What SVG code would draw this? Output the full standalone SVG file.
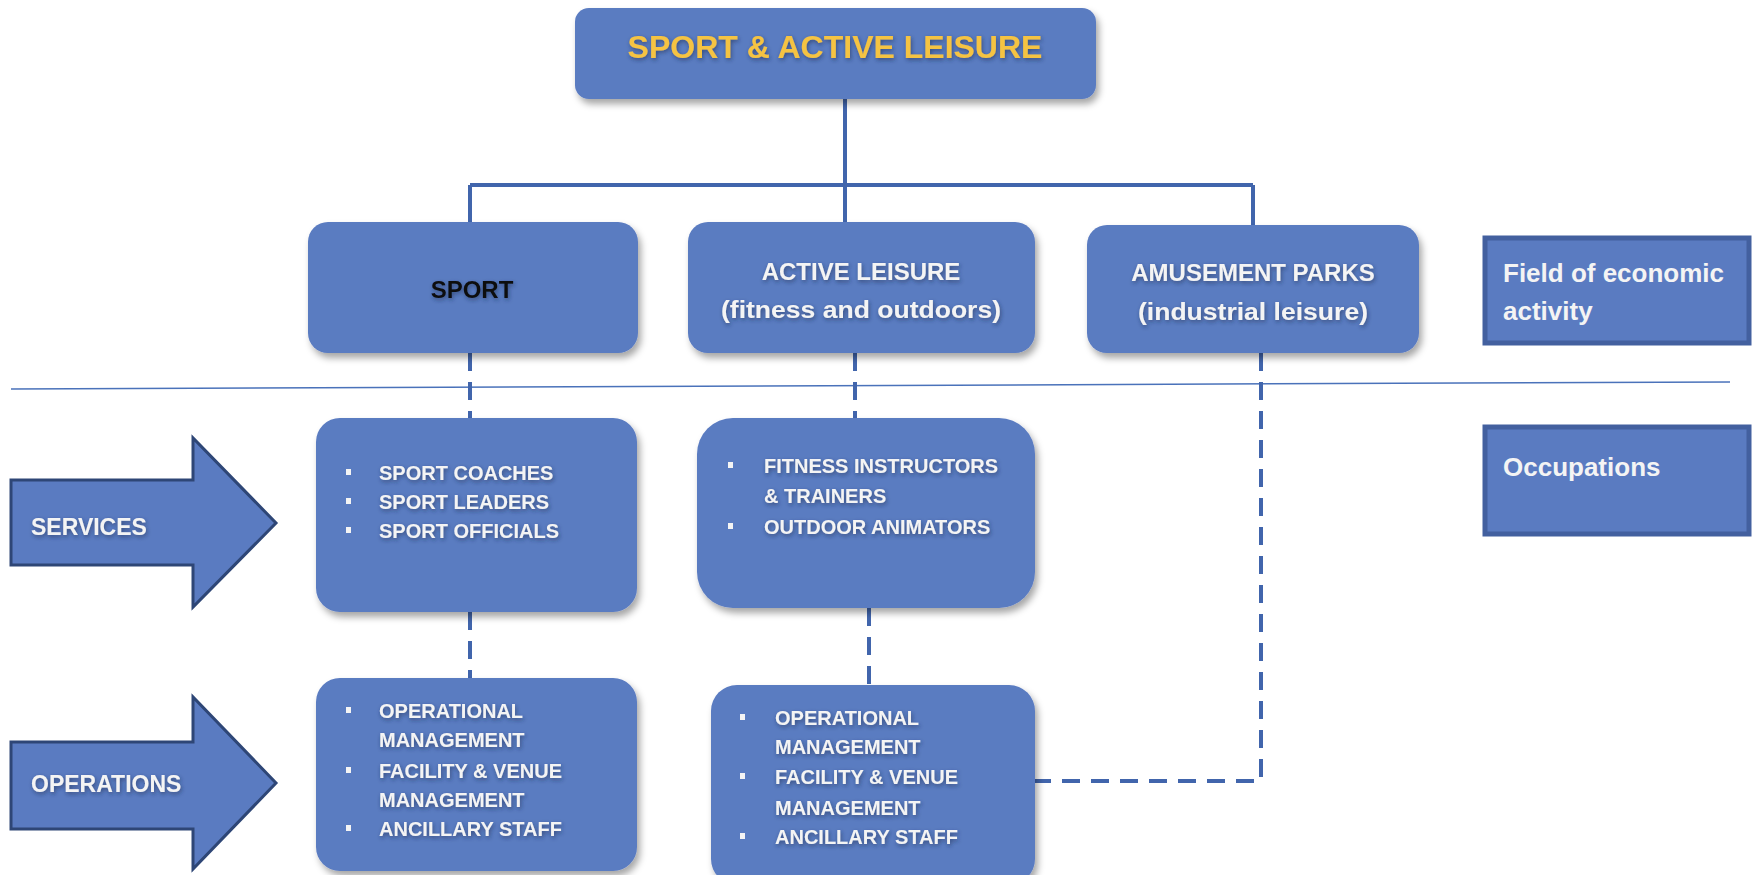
<svg xmlns="http://www.w3.org/2000/svg" width="1762" height="875" viewBox="0 0 1762 875">
  <defs>
    <filter id="sh" x="-10%" y="-10%" width="125%" height="130%">
      <feDropShadow dx="3" dy="5" stdDeviation="3.5" flood-color="#000" flood-opacity="0.35"/>
    </filter>
    <filter id="tsh" x="-5%" y="-20%" width="110%" height="150%">
      <feDropShadow dx="1" dy="2" stdDeviation="2" flood-color="#1a2a50" flood-opacity="0.6"/>
    </filter>
  </defs>
  <style>
    .box { fill: #5A7BC1; filter: url(#sh); }
    .sq { fill: #5A7BC1; stroke: #43609F; stroke-width: 5; }
    .arrow { fill: #5A7BC1; stroke: #2E4676; stroke-width: 3; stroke-linejoin: miter; }
    .solid { stroke: #4165AC; stroke-width: 4; fill: none; }
    .dash { stroke: #4165AC; stroke-width: 4; fill: none; stroke-dasharray: 18 11; }
    .thin { stroke: #4A72BA; stroke-width: 1.5; fill: none; }
    text { font-family: "Liberation Sans", Arial, sans-serif; font-weight: bold; }
    .t { fill: #F4F4F4; filter: url(#tsh); }
    .h { font-size: 24px; text-anchor: middle; }
    .b { font-size: 20px; }
    .l { font-size: 26px; fill: #F4F4F4; }
    .bul { fill: #F4F4F4; }
  </style>

  <g id="connectors">
    <path class="solid" d="M845 99 V185 M470 185 H1253 M470 185 V222 M845 185 V222 M1253 185 V225"/>
    <path class="thin" d="M11 389 L1730 382"/>
    <path class="dash" d="M470 353 V418"/>
    <path class="dash" d="M855 353 V418"/>
    <path class="dash" d="M470 612 V678"/>
    <path class="dash" d="M869 608 V685"/>
    <path class="dash" d="M1261 353 V781 H1035"/>
  </g>

  <g id="top">
    <rect class="box" x="575" y="8" width="521" height="91" rx="14"/>
    <text x="835" y="58" font-size="32" text-anchor="middle" fill="#F5C343" filter="url(#tsh)">SPORT &amp; ACTIVE LEISURE</text>
  </g>

  <g id="sport">
    <rect class="box" x="308" y="222" width="330" height="131" rx="20"/>
    <text class="h" x="472" y="298" fill="#111" filter="url(#tsh)">SPORT</text>
  </g>

  <g id="active-leisure">
    <rect class="box" x="688" y="222" width="347" height="131" rx="20"/>
    <text class="h t" x="861" y="280">ACTIVE LEISURE</text>
    <text class="h t" x="861" y="318" textLength="280" lengthAdjust="spacingAndGlyphs">(fitness and outdoors)</text>
  </g>

  <g id="amusement-parks">
    <rect class="box" x="1087" y="225" width="332" height="128" rx="20"/>
    <text class="h t" x="1253" y="281">AMUSEMENT PARKS</text>
    <text class="h t" x="1253" y="320" textLength="230" lengthAdjust="spacingAndGlyphs">(industrial leisure)</text>
  </g>

  <g id="field-legend">
    <rect class="sq" x="1485" y="238" width="264" height="105"/>
    <text class="l" x="1503" y="282">Field of economic</text>
    <text class="l" x="1503" y="320">activity</text>
  </g>

  <g id="occupations-legend">
    <rect class="sq" x="1485" y="427" width="264" height="107"/>
    <text class="l" x="1503" y="476">Occupations</text>
  </g>

  <g id="services-arrow">
    <polygon class="arrow" points="11,480 193,480 193,438 276,523 193,607 193,565 11,565"/>
    <text class="t" x="31" y="535" font-size="23">SERVICES</text>
  </g>

  <g id="operations-arrow">
    <polygon class="arrow" points="11,742 193,742 193,697 276,783 193,869 193,829 11,829"/>
    <text class="t" x="31" y="792" font-size="23">OPERATIONS</text>
  </g>

  <g id="sport-services">
    <rect class="box" x="316" y="418" width="321" height="194" rx="24"/>
    <rect class="bul" x="346" y="469" width="5" height="6"/>
    <rect class="bul" x="346" y="498" width="5" height="6"/>
    <rect class="bul" x="346" y="527" width="5" height="6"/>
    <text class="b t" x="379" y="480">SPORT COACHES</text>
    <text class="b t" x="379" y="509">SPORT LEADERS</text>
    <text class="b t" x="379" y="538">SPORT OFFICIALS</text>
  </g>

  <g id="active-services">
    <rect class="box" x="697" y="418" width="338" height="190" rx="36"/>
    <rect class="bul" x="728" y="462" width="5" height="6"/>
    <rect class="bul" x="728" y="523" width="5" height="6"/>
    <text class="b t" x="764" y="473">FITNESS INSTRUCTORS</text>
    <text class="b t" x="764" y="503">&amp; TRAINERS</text>
    <text class="b t" x="764" y="534">OUTDOOR ANIMATORS</text>
  </g>

  <g id="sport-operations">
    <rect class="box" x="316" y="678" width="321" height="193" rx="24"/>
    <rect class="bul" x="346" y="707" width="5" height="6"/>
    <rect class="bul" x="346" y="767" width="5" height="6"/>
    <rect class="bul" x="346" y="825" width="5" height="6"/>
    <text class="b t" x="379" y="718">OPERATIONAL</text>
    <text class="b t" x="379" y="747">MANAGEMENT</text>
    <text class="b t" x="379" y="778">FACILITY &amp; VENUE</text>
    <text class="b t" x="379" y="807">MANAGEMENT</text>
    <text class="b t" x="379" y="836">ANCILLARY STAFF</text>
  </g>

  <g id="active-operations">
    <rect class="box" x="711" y="685" width="324" height="200" rx="26"/>
    <rect class="bul" x="740" y="714" width="5" height="6"/>
    <rect class="bul" x="740" y="773" width="5" height="6"/>
    <rect class="bul" x="740" y="833" width="5" height="6"/>
    <text class="b t" x="775" y="725">OPERATIONAL</text>
    <text class="b t" x="775" y="754">MANAGEMENT</text>
    <text class="b t" x="775" y="784">FACILITY &amp; VENUE</text>
    <text class="b t" x="775" y="815">MANAGEMENT</text>
    <text class="b t" x="775" y="844">ANCILLARY STAFF</text>
  </g>
</svg>
